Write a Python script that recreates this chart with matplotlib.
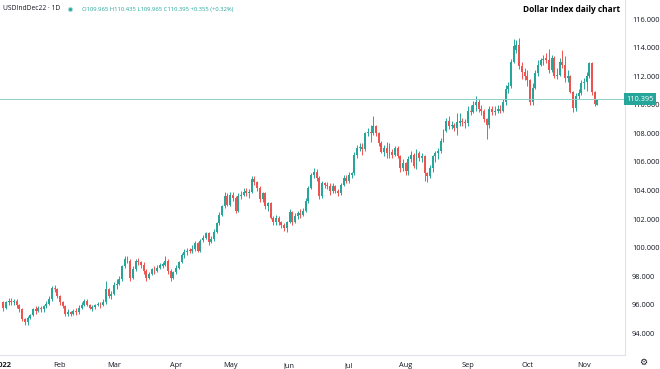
import numpy as np
import pandas as pd
import matplotlib
matplotlib.use("Agg")
import matplotlib.pyplot as plt

plt.rcParams['font.family'] = ['Open Sans', 'DejaVu Sans']

# USD index Dec22 futures, daily OHLC, 3 Jan - 8 Nov 2022 (no session on Good Friday)
opens = [
    96.2, 95.8, 96.2, 96.3, 96.2, 96.3, 96.0, 95.7, 95.0, 94.8, 95.1, 95.3, 95.7, 95.6, 95.8, 95.7, 95.9, 96.1, 96.4, 97.2, 97.1,
    96.6, 96.2, 95.9, 95.4, 95.5, 95.4, 95.6, 95.5, 95.8, 96.0, 96.3, 96.0, 95.75, 95.85, 96.0, 96.1, 96.0, 96.2, 97.1, 96.6,
    96.8, 97.4, 97.5, 97.8, 98.7, 99.2, 99.1, 97.9, 98.5, 99.1, 99.0, 98.8, 98.4, 97.9, 98.2, 98.5, 98.4, 98.6, 98.75, 98.8, 99.1, 98.4, 97.9,
    98.3, 98.6, 99.0, 99.5, 99.7, 99.85, 99.75, 99.9, 100.3, 99.8, 100.55, 100.7, 101.0, 100.4, 100.6, 101.1, 101.7, 102.3, 102.9, 103.6,
    103.0, 103.7, 103.5, 102.6, 103.6, 103.7, 103.95, 103.85, 103.9, 104.8, 104.6, 104.2, 103.4, 103.8, 102.9, 103.1, 102.1, 101.8, 102.1, 101.8, 101.6, 101.4,
    101.8, 102.5, 101.8, 102.2, 102.4, 102.3, 102.6, 103.3, 104.2, 105.1, 105.3, 104.9, 103.6, 104.5, 104.4, 104.3, 104.0, 104.3, 104.0, 103.8, 104.4, 104.9,
    104.7, 105.1, 105.2, 106.5, 106.95, 107.05, 106.9, 108.0, 108.1, 108.0, 108.5, 108.0, 107.3, 106.7, 107.0, 106.6, 106.7, 106.5, 107.0, 106.4, 105.6,
    105.9, 105.4, 106.2, 106.5, 105.7, 106.6, 106.3, 106.4, 105.2, 105.0, 105.6, 106.4, 106.6, 106.8, 107.5, 108.2, 108.9, 108.5, 108.6, 108.4, 108.75, 108.85, 108.8,
    108.7, 109.6, 109.5, 110.0, 110.2, 109.7, 109.6, 109.0, 108.6, 109.7, 109.5, 109.6, 109.7, 109.6, 110.2, 111.1, 111.3, 113.0, 113.8, 114.2, 112.7, 112.3,
    112.0, 111.7, 110.2, 111.2, 112.2, 112.8, 113.1, 113.25, 113.15, 112.4, 113.3, 112.0, 112.1, 113.0, 112.8, 111.9, 112.0, 110.9, 109.8, 110.6, 110.8,
    111.5, 111.6, 112.0, 112.9, 110.9, 109.965,
]
highs = [
    96.3, 96.3, 96.5, 96.5, 96.4, 96.4, 96.1, 95.8, 95.1, 95.2, 95.4, 95.8, 95.9, 95.9, 95.9, 96.0, 96.3, 96.6, 97.3, 97.4, 97.2,
    96.7, 96.3, 96.0, 95.7, 95.6, 95.7, 95.8, 96.0, 96.2, 96.4, 96.4, 96.1, 96.0, 96.1, 96.2, 96.2, 96.4, 97.7, 97.2, 97.0,
    97.6, 97.8, 98.0, 98.8, 99.4, 99.4, 99.2, 98.7, 99.2, 99.3, 99.1, 99.0, 98.5, 98.3, 98.6, 98.7, 98.8, 98.9, 99.0, 99.4, 99.2, 98.5, 98.4,
    98.8, 99.1, 99.6, 99.9, 100.0, 100.0, 100.2, 100.5, 100.4, 100.6, 100.9, 101.1, 101.1, 100.8, 101.3, 101.8, 102.5, 103.0, 103.9, 103.8,
    103.9, 103.9, 103.6, 103.8, 104.0, 104.2, 104.2, 104.1, 105.0, 105.0, 104.7, 104.3, 103.9, 103.9, 103.2, 103.2, 102.2, 102.3, 102.2, 101.9, 101.7, 101.9,
    102.7, 102.6, 102.4, 102.6, 102.7, 102.8, 103.5, 104.3, 105.2, 105.6, 105.5, 105.0, 104.7, 104.6, 104.6, 104.5, 104.5, 104.4, 104.1, 104.5, 105.1, 105.1,
    105.3, 105.3, 106.7, 107.2, 107.3, 107.3, 108.1, 108.4, 108.6, 109.2, 108.6, 108.1, 107.5, 107.2, 107.4, 107.3, 106.9, 107.1, 107.1, 106.5, 106.2,
    106.0, 106.4, 106.8, 106.6, 106.9, 106.8, 106.6, 106.5, 105.3, 105.8, 106.5, 106.8, 107.0, 107.7, 108.3, 109.1, 109.2, 108.9, 108.7, 109.4, 109.4, 109.1, 109.0,
    109.9, 110.0, 110.3, 110.6, 110.4, 110.0, 109.7, 109.1, 109.9, 109.9, 109.9, 110.0, 110.0, 110.4, 111.4, 111.6, 113.2, 114.6, 114.5, 114.7, 113.0, 112.6,
    112.4, 111.8, 111.5, 112.4, 113.1, 113.3, 113.5, 113.6, 113.9, 113.5, 113.4, 112.6, 113.3, 113.8, 113.4, 112.4, 112.1, 111.0, 110.8, 111.1, 111.7,
    111.9, 112.3, 113.0, 113.0, 111.0, 110.435,
]
lows = [
    95.6, 95.7, 96.0, 96.0, 96.0, 95.8, 95.5, 94.9, 94.6, 94.6, 95.0, 95.2, 95.4, 95.5, 95.5, 95.5, 95.8, 96.0, 96.3, 96.9, 96.5,
    96.0, 95.8, 95.2, 95.2, 95.2, 95.3, 95.3, 95.4, 95.7, 95.9, 95.9, 95.7, 95.6, 95.7, 95.9, 95.8, 95.9, 96.1, 96.5, 96.4,
    96.7, 97.1, 97.4, 97.7, 98.6, 98.9, 97.7, 97.8, 98.4, 98.8, 98.6, 98.2, 97.7, 97.8, 98.1, 98.2, 98.3, 98.5, 98.6, 98.7, 98.2, 97.7, 97.8,
    98.2, 98.5, 98.9, 99.3, 99.5, 99.6, 99.6, 99.8, 99.7, 99.7, 100.4, 100.6, 100.2, 100.3, 100.5, 101.0, 101.6, 102.2, 102.8, 102.9,
    102.9, 103.3, 102.4, 102.5, 103.4, 103.6, 103.6, 103.5, 103.8, 104.4, 104.0, 103.2, 103.2, 102.7, 102.6, 102.0, 101.6, 101.6, 101.6, 101.4, 101.2, 101.1,
    101.7, 101.6, 101.7, 102.0, 102.1, 102.2, 102.5, 103.1, 104.1, 104.9, 104.7, 103.4, 103.5, 104.2, 104.1, 103.7, 103.8, 103.8, 103.6, 103.7, 104.3, 104.5,
    104.5, 104.9, 105.1, 106.3, 106.8, 106.5, 106.8, 107.8, 107.4, 107.9, 107.8, 107.1, 106.6, 106.4, 106.3, 106.3, 106.3, 106.4, 106.3, 105.3, 105.4,
    105.1, 105.1, 106.0, 105.6, 105.5, 106.1, 106.0, 104.7, 104.6, 104.9, 105.3, 106.0, 106.2, 106.6, 107.4, 108.1, 108.3, 108.3, 108.2, 107.9, 108.5, 108.5, 108.4,
    108.5, 109.3, 109.4, 109.6, 109.5, 109.3, 108.8, 107.6, 108.4, 109.3, 109.3, 109.4, 109.4, 109.5, 110.0, 110.8, 111.2, 112.9, 113.6, 112.5, 111.8, 111.7,
    111.3, 110.0, 110.0, 111.1, 112.0, 112.7, 112.8, 112.9, 112.2, 112.3, 111.9, 111.8, 112.0, 112.6, 111.6, 111.6, 110.8, 109.5, 109.6, 110.4, 110.7,
    111.1, 111.0, 111.9, 110.7, 109.9, 109.965,
]
closes = [
    95.8, 96.2, 96.3, 96.2, 96.3, 96.0, 95.7, 95.0, 94.8, 95.1, 95.3, 95.7, 95.6, 95.8, 95.7, 95.9, 96.1, 96.4, 97.2, 97.1, 96.6,
    96.2, 95.9, 95.4, 95.5, 95.4, 95.6, 95.5, 95.8, 96.0, 96.3, 96.0, 95.8, 95.85, 96.0, 96.1, 96.0, 96.2, 97.1, 96.6, 96.8,
    97.4, 97.5, 97.8, 98.7, 99.2, 99.1, 97.9, 98.5, 99.1, 99.0, 98.8, 98.4, 97.9, 98.2, 98.5, 98.4, 98.6, 98.8, 98.85, 99.1, 98.4, 97.9, 98.3,
    98.6, 99.0, 99.5, 99.7, 99.8, 99.75, 99.9, 100.3, 99.8, 100.5, 100.7, 101.0, 100.4, 100.6, 101.1, 101.7, 102.3, 102.9, 103.6, 103.0,
    103.7, 103.5, 102.6, 103.6, 103.7, 103.9, 103.85, 103.9, 104.8, 104.6, 104.2, 103.4, 103.8, 102.9, 103.1, 102.1, 101.8, 102.1, 101.8, 101.6, 101.4, 101.8,
    102.5, 101.8, 102.2, 102.4, 102.3, 102.6, 103.3, 104.2, 105.1, 105.3, 104.9, 103.6, 104.5, 104.4, 104.3, 104.0, 104.3, 104.0, 103.8, 104.4, 104.9, 104.7,
    105.1, 105.2, 106.5, 107.0, 107.05, 106.9, 108.0, 108.1, 108.0, 108.5, 108.0, 107.3, 106.7, 107.0, 106.6, 106.7, 106.5, 107.0, 106.4, 105.6, 105.9,
    105.4, 106.2, 106.5, 105.7, 106.6, 106.3, 106.4, 105.2, 105.0, 105.6, 106.4, 106.6, 106.8, 107.5, 108.2, 108.9, 108.5, 108.6, 108.4, 108.8, 108.85, 108.8, 108.7,
    109.6, 109.5, 110.0, 110.2, 109.7, 109.6, 109.0, 108.6, 109.7, 109.5, 109.6, 109.7, 109.6, 110.2, 111.1, 111.3, 113.0, 114.1, 114.2, 112.7, 112.3, 112.0,
    111.7, 110.2, 111.2, 112.2, 112.8, 113.1, 113.2, 113.15, 112.4, 113.3, 112.0, 112.1, 113.0, 112.8, 111.9, 112.0, 110.9, 109.8, 110.6, 110.8, 111.5,
    111.6, 112.0, 112.9, 110.9, 110.04, 110.395,
]

month_labels = ['2022', 'Feb', 'Mar', 'Apr', 'May', 'Jun', 'Jul', 'Aug', 'Sep', 'Oct', 'Nov']
price_ticks = [94, 96, 98, 100, 102, 104, 106, 108, 110, 112, 114, 116]
last_price = 110.395
symbol = 'USDIndDec22 \u00b7 1D'
ohlc_text = 'O109.965 H110.435 L109.965 C110.395 +0.355 (+0.32%)'
title = 'Dollar Index daily chart'

dates = pd.bdate_range('2022-01-03', '2022-11-08')
dates = dates[dates != pd.Timestamp('2022-04-15')]
assert len(dates) == len(closes) == len(opens) == len(highs) == len(lows)

UP = '#26a69a'
DOWN = '#ef5350'
TXT = '#131722'
SEP = '#e0e3eb'

o, h, l, c = (np.array(v) for v in (opens, highs, lows, closes))
x = np.arange(len(c))
cols = np.where(c >= o, UP, DOWN)

fig = plt.figure(figsize=(6.6, 3.69), dpi=100)
ax = fig.add_axes([0, 14 / 369, 625 / 660, 355 / 369])

ax.vlines(x, l, h, colors=cols, linewidth=0.7)
ax.bar(x, np.maximum(np.abs(c - o), 0.05), bottom=np.minimum(o, c),
       width=0.72, color=cols, linewidth=0)

ax.axhline(last_price, color='#8fd0c9', linewidth=0.7)

ax.set_xlim(-1.2, 230.2)
ax.set_ylim(92.5, 117.33)

# month ticks at first session of each month
month_pos = [0] + [i for i in range(1, len(dates)) if dates[i].month != dates[i - 1].month]
ax.set_xticks(month_pos)
ax.set_xticklabels(month_labels)
ax.get_xticklabels()[0].set_fontweight('bold')

ax.yaxis.tick_right()
ax.set_yticks(price_ticks)
ax.set_yticklabels(['%.3f' % p for p in price_ticks])
ax.tick_params(axis='both', labelsize=5.3, colors=TXT, length=0)
ax.tick_params(axis='y', pad=5)
ax.tick_params(axis='x', pad=5)

for s in ('left', 'top'):
    ax.spines[s].set_visible(False)
for s in ('right', 'bottom'):
    ax.spines[s].set_color(SEP)
    ax.spines[s].set_linewidth(0.8)

ax.text(1.002, last_price, '%.3f' % last_price, transform=ax.get_yaxis_transform(),
        ha='left', va='center', fontsize=5.3, color='white', clip_on=False, zorder=10,
        bbox=dict(boxstyle='square,pad=0.35', fc=UP, ec='none'))

# header
fig.text(3 / 660, 1 - 9 / 369, symbol, fontsize=4.9, color=TXT, va='center', ha='left')
fig.add_artist(plt.Line2D([70 / 660], [1 - 9 / 369], marker='o', markersize=3.0,
                          color=UP, markeredgecolor='#b2dfdb', markeredgewidth=0.8))
fig.text(82 / 660, 1 - 9 / 369, ohlc_text, fontsize=4.2, color=UP, va='center', ha='left')
fig.text(620 / 660, 1 - 9 / 369, title, fontsize=6.0, fontweight='bold', color='black',
         va='center', ha='right')
fig.text(643 / 660, 1 - 362 / 369, '\u2699', fontsize=6.5, color=TXT, va='center', ha='center',
         family='DejaVu Sans')

fig.savefig('out.png', dpi=100)
